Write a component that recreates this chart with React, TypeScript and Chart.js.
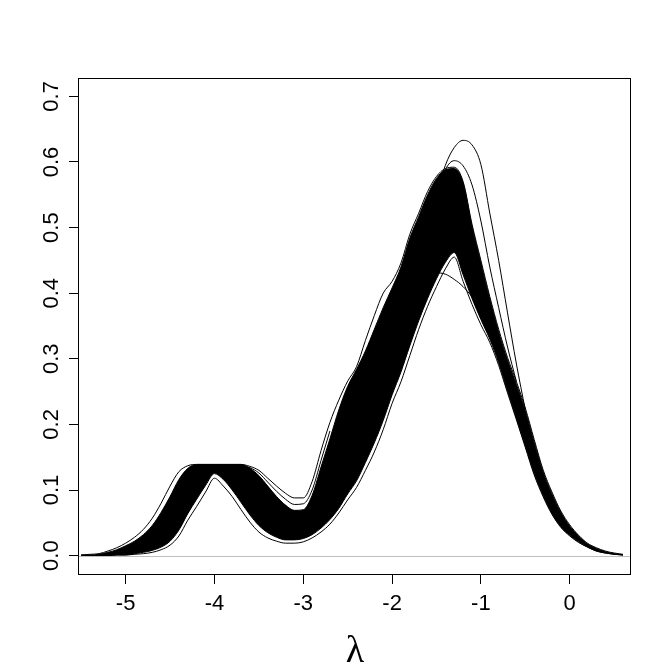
import React, { useEffect, useRef } from "react";
import { Chart, registerables } from "chart.js";

Chart.register(...registerables);

// lambda grid (x values shared by all series)
const XS = [
  -5.5, -5.4, -5.3, -5.2, -5.1, -5.0, -4.9, -4.8, -4.7, -4.6,
  -4.5, -4.4, -4.3, -4.2, -4.1, -4.0, -3.9, -3.8, -3.7, -3.6,
  -3.5, -3.4, -3.3, -3.2, -3.1, -3.0, -2.9, -2.8, -2.7, -2.6,
  -2.5, -2.4, -2.3, -2.2, -2.1, -2.0, -1.9, -1.8, -1.7, -1.6,
  -1.5, -1.4, -1.3, -1.2, -1.1, -1.0, -0.9, -0.8, -0.7, -0.6,
  -0.5, -0.4, -0.3, -0.2, -0.1, 0.0, 0.1, 0.2, 0.3, 0.4,
  0.5, 0.6,
];

// lowest single curve of the bundle
const LOWER = [
  0.000, 0.000, 0.000, 0.000, 0.001, 0.001, 0.002, 0.003, 0.005, 0.009,
  0.016, 0.030, 0.054, 0.075, 0.097, 0.118, 0.106, 0.090, 0.070, 0.051,
  0.036, 0.027, 0.022, 0.019, 0.019, 0.021, 0.027, 0.036, 0.048, 0.065,
  0.085, 0.104, 0.130, 0.158, 0.192, 0.232, 0.265, 0.305, 0.345, 0.380,
  0.410, 0.437, 0.455, 0.418, 0.383, 0.352, 0.325, 0.290, 0.248, 0.207,
  0.165, 0.123, 0.090, 0.063, 0.043, 0.030, 0.020, 0.013, 0.007, 0.004,
  0.002, 0.001,
];

// highest single curve of the bundle
const UPPER = [
  0.001, 0.002, 0.003, 0.007, 0.012, 0.019, 0.028, 0.040, 0.057, 0.080,
  0.106, 0.128, 0.137, 0.139, 0.139, 0.139, 0.139, 0.139, 0.139, 0.136,
  0.130, 0.118, 0.106, 0.095, 0.088, 0.088, 0.113, 0.160, 0.203, 0.237,
  0.266, 0.288, 0.328, 0.366, 0.400, 0.418, 0.446, 0.490, 0.522, 0.555,
  0.578, 0.590, 0.592, 0.570, 0.505, 0.450, 0.395, 0.345, 0.302, 0.265,
  0.225, 0.177, 0.131, 0.097, 0.068, 0.047, 0.031, 0.019, 0.012, 0.007,
  0.004, 0.002,
];

// dense core of the bundle (lower and upper edge)
const CORE_LOWER = [
  0.000, 0.000, 0.000, 0.000, 0.001, 0.001, 0.003, 0.005, 0.008, 0.013,
  0.022, 0.039, 0.064, 0.086, 0.107, 0.125, 0.116, 0.100, 0.081, 0.062,
  0.046, 0.035, 0.028, 0.024, 0.024, 0.026, 0.032, 0.042, 0.055, 0.072,
  0.094, 0.114, 0.142, 0.172, 0.206, 0.245, 0.280, 0.320, 0.358, 0.392,
  0.422, 0.447, 0.462, 0.428, 0.392, 0.360, 0.330, 0.294, 0.251, 0.209,
  0.167, 0.125, 0.092, 0.064, 0.044, 0.031, 0.021, 0.013, 0.007, 0.004,
  0.002, 0.001,
];
const CORE_UPPER = [
  0.001, 0.001, 0.002, 0.005, 0.009, 0.015, 0.022, 0.032, 0.046, 0.066,
  0.090, 0.116, 0.133, 0.139, 0.139, 0.139, 0.139, 0.139, 0.139, 0.133,
  0.122, 0.106, 0.090, 0.077, 0.069, 0.070, 0.092, 0.135, 0.178, 0.222,
  0.258, 0.284, 0.312, 0.345, 0.378, 0.408, 0.440, 0.484, 0.517, 0.550,
  0.575, 0.588, 0.590, 0.568, 0.502, 0.446, 0.391, 0.341, 0.298, 0.261,
  0.221, 0.173, 0.128, 0.094, 0.066, 0.045, 0.030, 0.018, 0.011, 0.006,
  0.003, 0.001,
];

const N = null;
// single curves that stand out of the bundle
const TALLEST = [
  N, N, N, N, N, N, N, N, N, N,
  N, N, N, N, N, N, N, N, N, N,
  N, N, N, N, N, N, N, N, N, N,
  N, N, N, N, N, N, N, N, N, N,
  0.550, 0.595, 0.622, 0.633, 0.626, 0.596, 0.522, 0.450, 0.370, 0.292,
  0.222, N, N, N, N, N, N, N, N, N,
  N, N,
];
const SECOND = [
  N, N, N, N, N, N, N, N, N, N,
  N, N, N, N, N, N, N, N, N, N,
  N, N, N, N, N, N, N, N, N, N,
  N, N, N, N, N, N, N, N, N, N,
  0.545, 0.588, 0.602, 0.594, 0.565, 0.510, 0.440, 0.378, 0.318, 0.265,
  N, N, N, N, N, N, N, N, N, N,
  N, N,
];
const FLATTEST = [
  N, N, N, N, N, N, N, N, N, N,
  N, N, N, N, N, N, N, N, N, N,
  N, N, N, N, N, N, N, N, N, N,
  N, N, N, N, N, N, N, 0.345, 0.385, 0.418,
  0.431, 0.429, 0.421, 0.410, 0.394, 0.370, 0.335, N, N, N,
  N, N, N, N, N, N, N, N, N, N,
  N, N,
];
const DIP_HIGH = [
  N, N, N, N, N, N, N, N, N, N,
  N, N, N, N, N, N, N, N, 0.138, 0.134,
  0.126, 0.112, 0.098, 0.086, 0.078, 0.079, 0.100, 0.145, 0.190, N,
  N, N, N, N, N, N, N, N, N, N,
  N, N, N, N, N, N, N, N, N, N,
  N, N, N, N, N, N, N, N, N, N,
  N, N,
];

const X_TICKS = [-5, -4, -3, -2, -1, 0];
const Y_TICKS = [0, 0.1, 0.2, 0.3, 0.4, 0.5, 0.6, 0.7];
const Y_TICK_LABELS = ["0.0", "0.1", "0.2", "0.3", "0.4", "0.5", "0.6", "0.7"];
const X_TITLE = "λ";

const toPoints = (ys: (number | null)[]) => XS.map((x, i) => ({ x, y: ys[i] }));

const decor = {
  id: "decor",
  afterDatasetsDraw(chart: any) {
    const { ctx, chartArea, scales } = chart;
    const y0 = Math.round(scales.y.getPixelForValue(0)) + 0.5;
    ctx.save();
    ctx.strokeStyle = "#bebebe";
    ctx.lineWidth = 1;
    ctx.beginPath();
    ctx.moveTo(chartArea.left, y0);
    ctx.lineTo(chartArea.right, y0);
    ctx.stroke();
    ctx.restore();
  },
  afterDraw(chart: any) {
    const { ctx, chartArea, scales } = chart;
    const { left, right, top, bottom } = chartArea;
    ctx.save();
    ctx.strokeStyle = "#000";
    ctx.lineWidth = 1;
    ctx.strokeRect(left - 0.5, top + 0.5, right - left, bottom - top);
    ctx.fillStyle = "#000";
    ctx.font = '22px "Liberation Sans", Arial, sans-serif';
    ctx.textAlign = "center";
    ctx.textBaseline = "alphabetic";
    X_TICKS.forEach((v) => {
      ctx.fillText(String(v), scales.x.getPixelForValue(v), bottom + 36);
    });
    Y_TICKS.forEach((v, i) => {
      ctx.save();
      ctx.translate(left - 21, scales.y.getPixelForValue(v));
      ctx.rotate(-Math.PI / 2);
      ctx.fillText(Y_TICK_LABELS[i], 0, 0);
      ctx.restore();
    });
    ctx.font = '38px "Liberation Serif", "DejaVu Serif", serif';
    ctx.fillText(X_TITLE, (left + right) / 2, bottom + 88);
    ctx.restore();
  },
};

export default function App() {
  const ref = useRef<HTMLCanvasElement | null>(null);
  useEffect(() => {
    if (!ref.current) return;
    const line = (data: any[], extra: any = {}) => ({
      data,
      borderColor: "#000",
      borderWidth: 1,
      pointRadius: 0,
      cubicInterpolationMode: "monotone",
      spanGaps: false,
      fill: false,
      ...extra,
    });
    const chart = new Chart(ref.current, {
      type: "line",
      data: {
        datasets: [
          line(toPoints(CORE_LOWER)),
          line(toPoints(CORE_UPPER), { fill: "-1", backgroundColor: "#000" }),
          line(toPoints(LOWER)),
          line(toPoints(UPPER)),
          line(toPoints(DIP_HIGH)),
          line(toPoints(TALLEST)),
          line(toPoints(SECOND)),
          line(toPoints(FLATTEST)),
        ] as any,
      },
      options: {
        animation: false,
        responsive: false,
        layout: { padding: { left: 0, top: 78, right: 41, bottom: 0 } },
        plugins: { legend: { display: false }, tooltip: { enabled: false } },
        scales: {
          x: {
            type: "linear",
            min: -5.525,
            max: 0.69,
            border: { display: false },
            grid: { drawOnChartArea: false, drawTicks: true, tickLength: 10, tickColor: "#000", tickWidth: 1 },
            ticks: { display: false },
            afterBuildTicks: (s: any) => { s.ticks = X_TICKS.map((value) => ({ value })); },
            afterFit: (s: any) => { s.height = 98; },
          },
          y: {
            type: "linear",
            min: -0.028,
            max: 0.728,
            border: { display: false },
            grid: { drawOnChartArea: false, drawTicks: true, tickLength: 10, tickColor: "#000", tickWidth: 1 },
            ticks: { display: false },
            afterBuildTicks: (s: any) => { s.ticks = Y_TICKS.map((value) => ({ value })); },
            afterFit: (s: any) => { s.width = 79; },
          },
        },
      } as any,
      plugins: [decor],
    });
    return () => chart.destroy();
  }, []);
  return (
    <div style={{ position: "absolute", left: 0, top: 0, width: 672, height: 672, background: "#fff" }}>
      <canvas ref={ref} width={672} height={672} style={{ display: "block" }} />
    </div>
  );
}
